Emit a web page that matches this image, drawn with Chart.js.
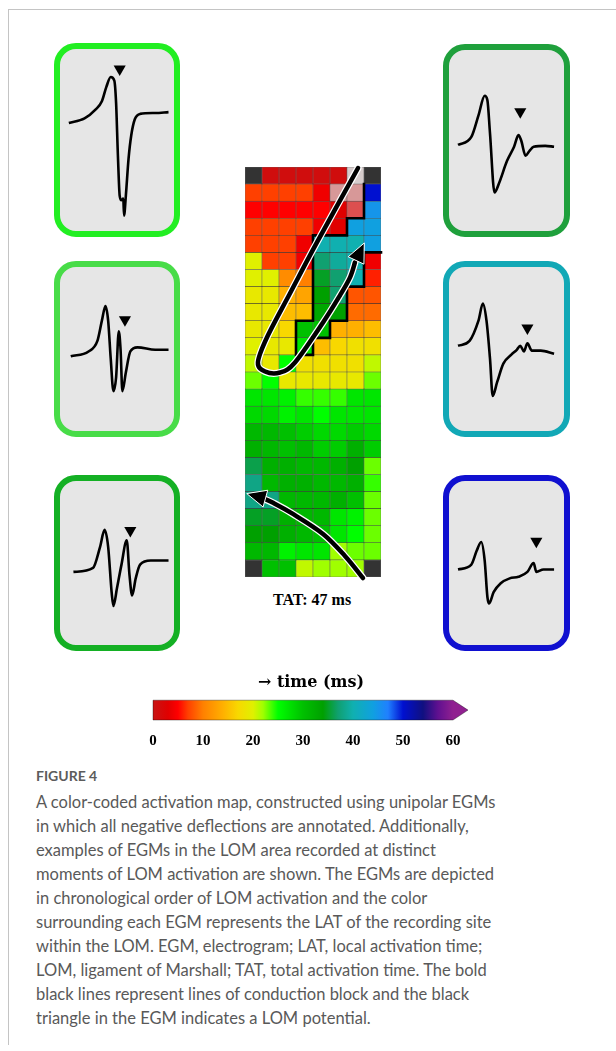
<!DOCTYPE html>
<html>
<head>
<meta charset="utf-8">
<script src="https://cdn.jsdelivr.net/npm/chart.js@4.4.1/dist/chart.umd.min.js"></script>
<style>
  body { margin: 0; background: #fff; width: 616px; height: 1051px; position: relative; overflow: hidden; font-family: Lato, "Open Sans", sans-serif; }
  .frame-top { position: absolute; left: 8px; top: 9px; width: 608px; height: 1px; background: #c4c4c4; }
  .frame-left { position: absolute; left: 8px; top: 9px; width: 1px; height: 1036px; background: #c4c4c4; }
  .panel { position: absolute; box-sizing: border-box; border: 6px solid; border-radius: 22px; background: #e6e6e6; }
  canvas { position: absolute; }
  .tat { position: absolute; left: 232px; width: 160px; top: 591px; text-align: center; font: bold 16px "Liberation Serif", serif; color: #000; }
  .figno { position: absolute; left: 36px; top: 766px; font-size: 14px; font-weight: 700; color: #5c5c5c; line-height: 20px; }
  .caption { position: absolute; left: 36px; top: 790px; font-size: 16.5px; line-height: 24px; color: #595959; white-space: nowrap; }
</style>
</head>
<body>
<div class="frame-top"></div>
<div class="frame-left"></div>

<div id="panels"></div>
<canvas id="map" width="156" height="430" style="left:235px;top:157px"></canvas>
<div class="tat">TAT: 47 ms</div>
<canvas id="scale" width="350" height="100" style="left:140px;top:662px"></canvas>

<div class="figno">FIGURE 4</div>
<div class="caption">
A color-coded activation map, constructed using unipolar EGMs<br>
in which all negative deflections are annotated. Additionally,<br>
examples of EGMs in the LOM area recorded at distinct<br>
moments of LOM activation are shown. The EGMs are depicted<br>
in chronological order of LOM activation and the color<br>
surrounding each EGM represents the LAT of the recording site<br>
within the LOM. EGM, electrogram; LAT, local activation time;<br>
LOM, ligament of Marshall; TAT, total activation time. The bold<br>
black lines represent lines of conduction block and the black<br>
triangle in the EGM indicates a LOM potential.
</div>

<script>
// electrode columns of the LOM map
const columns = [1, 2, 3, 4, 5, 6, 7, 8];

// local activation time (ms) per electrode, rows top -> bottom, null = no signal
const latRows = [
  [null, 1, 1, 1, 1, 1, 1, null],
  [7, 7, 7, 7, 4, 2, 2, 50],
  [5, 5, 5, 5, 5, 3, 3, 45],
  [7, 7, 7, 7, 4, 3, 44, 44],
  [7, 7, 7, 4, 40, 40, 40, 44],
  [20, 7, 7, 4, 37, 39, 40, 4],
  [20, 20, 11, 10, 35, 37, 40, 6],
  [19, 19, 14, 13, 34, 37, 8, 8],
  [19, 19, 15, 15, 33, 34, 9, 9],
  [19, 19, 17, 30, 30, 14, 14, 15],
  [20, 19, 19, 27, 15, 17, 18, 18],
  [21, 19, 25, 18, 18, 18, 18, 21],
  [23, 25, 19, 19, 19, 19, 19, 23],
  [27, 27, 26, 24, 24, 24, 27, 27],
  [28, 28, 26, 27, 25, 27, 27, 27],
  [31, 31, 30, 29, 28, 28, 29, 28],
  [32, 31, 30, 31, 29, 29, 32, 29],
  [36, 32, 32, 31, 31, 32, 34, 23],
  [38, 31, 32, 32, 31, 31, 32, 24],
  [38, 38, 31, 31, 31, 32, 30, 23],
  [35, 35, 32, 31, 31, 27, 26, 23],
  [34, 34, 32, 31, 30, 27, 25, 23],
  [31, 31, 26, 27, 27, 22, 23, 23],
  [null, 30, 30, 21, 22, 22, 22, null]
];

// cells shown washed out in the figure: [row, col, amount]
const fadedCells = [[0, 6, 0.95], [1, 5, 0.7], [1, 6, 0.7], [2, 6, 0.37]];

// conduction block drawn round late cells in the upper part
const blockRows = 12;
const blockMinLat = 26;

// curved arrows, in grid units (column, row)
const loopArrow = [[6.65, 0.06], [4.24, 4.4], [2.65, 7.39], [1.29, 9.98], [0.76, 11.44], [1.18, 11.97],
  [2.06, 12.03], [2.94, 11.44], [4.59, 9.1], [5.59, 7.51], [6.18, 6.46], [6.47, 5.58]];
const loopTip = [7.0, 4.46];
const lowerArrow = [[6.94, 24.06], [5.88, 22.77], [4.59, 21.48], [2.82, 20.31], [1.65, 19.66], [1.0, 19.37]];
const lowerTip = [0.12, 19.13];

// colour scale
const scaleTicks = [0, 10, 20, 30, 40, 50, 60];
const latStops  = [0, 3, 5, 7, 10, 14, 17, 20, 22, 25, 30, 34, 37, 40, 44, 47, 50, 54, 57, 60];
const latColors = ["#c81414", "#e00000", "#ff0000", "#ff4000", "#ff8000", "#ffb000", "#f8d800", "#e0f000",
  "#a0ff00", "#00ff00", "#00c000", "#00a000", "#10a070", "#10b0b0", "#10a0e0", "#2080ff", "#0010d0",
  "#101080", "#601090", "#902090"];

// example EGMs: [time, amplitude] samples and the LOM potential marker
const egms = [
  { border: "#22ee22", wave: [[7, 19], [21, 24], [31, 34], [36.5, 43], [40.5, 59], [44.4, 70], [47.6, 66], [49.2, 41],
      [50.8, -17], [52.4, -62], [54, -67], [55.6, -65], [56.3, -84], [57.9, -62], [60.3, -21], [62.7, 5], [65.9, 23],
      [70.6, 29], [84, 30], [96, 31]], mark: [52.4, 79] },
  { border: "#48dc48", wave: [[8.7, -9], [24.6, -3], [32.5, 10], [36.5, 35], [39.7, 53], [42.1, 35], [44.4, -12],
      [46.8, -52], [49.2, -35], [51.6, 22], [53.2, -1], [54.8, -52], [57.9, -29], [61.9, -3], [68.3, 2], [84.1, -1],
      [96, -1]], mark: [57.1, 36] },
  { border: "#14b024", wave: [[11.1, -11], [28.6, -6], [34.9, 20], [38.9, 41], [42.1, 20], [45.2, -36], [46.8, -53],
      [50, -31], [54, -2], [58.7, 28], [61.1, -14], [63.5, -40], [66.7, -19], [70.6, -2], [80.2, 3], [96, 3]],
      mark: [61.9, 40] },
  { border: "#1fa03c", wave: [[7.1, -5], [18.9, 4], [25.2, 28], [30.7, 50], [33.1, 45], [35.4, 8], [39.4, -58],
      [43.3, -48], [50.4, -23], [56.7, -7], [60.6, 6], [63, 0], [66.9, -17], [70.1, -12], [74, -7], [84.3, -6],
      [92.1, -7]], mark: [62.2, 32] },
  { border: "#12a8b6", wave: [[7.1, 4], [17.3, 10], [25.2, 35], [29.1, 56], [32.3, 35], [35.4, -12], [37.8, -58],
      [41.7, -41], [47.2, -18], [54.3, -7], [59.1, -1], [62.2, 4], [65.4, -3], [68.5, 7], [72.4, -2], [80.3, -2],
      [92.1, -6]], mark: [68.5, 26] },
  { border: "#1010d0", wave: [[7.1, -8], [18.9, -2], [23.6, 15], [27.6, 26], [30.7, 3], [33.1, -42], [34.6, -50],
      [38.6, -36], [44.9, -25], [52.8, -19], [60.6, -17], [68.5, -11], [74, 0], [76.4, -11], [82.7, -8], [92.1, -8]],
      mark: [76.4, 27] }
];
const panelBoxes = [
  [54, 43, 126, 194], [54, 261, 126, 176], [54, 475, 126, 176],
  [443, 44, 127, 193], [443, 261, 127, 176], [443, 475, 127, 176]
];

function hexRgb(h) {
  return [parseInt(h.slice(1, 3), 16), parseInt(h.slice(3, 5), 16), parseInt(h.slice(5, 7), 16)];
}

function latRgb(v) {
  for (let i = 1; i < latStops.length; i++) {
    if (v <= latStops[i]) {
      const t = (v - latStops[i - 1]) / (latStops[i] - latStops[i - 1]);
      const a = hexRgb(latColors[i - 1]), b = hexRgb(latColors[i]);
      return a.map((c, k) => Math.round(c + (b[k] - c) * t));
    }
  }
  return hexRgb(latColors[latColors.length - 1]);
}

function cellColor(r, c) {
  const v = latRows[r][c];
  if (v === null) return "#333333";
  let rgb = latRgb(v);
  const f = fadedCells.find(x => x[0] === r && x[1] === c);
  if (f) rgb = rgb.map(ch => Math.round(ch + (214 - ch) * f[2]));
  return `rgb(${rgb[0]},${rgb[1]},${rgb[2]})`;
}

function smoothPath(ctx, pts) {
  ctx.beginPath();
  ctx.moveTo(pts[0][0], pts[0][1]);
  for (let i = 0; i < pts.length - 1; i++) {
    const p0 = pts[i - 1] || pts[i], p1 = pts[i], p2 = pts[i + 1], p3 = pts[i + 2] || p2;
    ctx.bezierCurveTo(p1[0] + (p2[0] - p0[0]) / 6, p1[1] + (p2[1] - p0[1]) / 6,
                      p2[0] - (p3[0] - p1[0]) / 6, p2[1] - (p3[1] - p1[1]) / 6, p2[0], p2[1]);
  }
}

function drawArrow(ctx, pts, tip) {
  ctx.lineCap = "round";
  ctx.lineJoin = "round";
  smoothPath(ctx, pts);
  ctx.strokeStyle = "#fff"; ctx.lineWidth = 7; ctx.stroke();
  smoothPath(ctx, pts);
  ctx.strokeStyle = "#000"; ctx.lineWidth = 4.5; ctx.stroke();
  const last = pts[pts.length - 1];
  const a = Math.atan2(tip[1] - last[1], tip[0] - last[0]);
  const len = 19, w = 8.5;
  const bx = tip[0] - len * Math.cos(a), by = tip[1] - len * Math.sin(a);
  ctx.beginPath();
  ctx.moveTo(tip[0], tip[1]);
  ctx.lineTo(bx + w * Math.sin(a), by - w * Math.cos(a));
  ctx.lineTo(bx - w * Math.sin(a), by + w * Math.cos(a));
  ctx.closePath();
  ctx.fillStyle = "#000"; ctx.fill();
  ctx.strokeStyle = "#fff"; ctx.lineWidth = 1; ctx.stroke();
}

const mapOverlay = {
  id: "mapOverlay",
  afterDatasetsDraw(chart) {
    const { ctx } = chart;
    const xs = chart.scales.x, ys = chart.scales.y;
    const nRows = latRows.length;
    const px = gx => xs.getPixelForValue(gx - 0.5);
    const py = gy => ys.getPixelForValue(nRows - gy);
    const toPx = p => [px(p[0]), py(p[1])];
    const inBlock = (r, c) => r < blockRows && latRows[r][c] !== null && latRows[r][c] >= blockMinLat;

    ctx.save();
    ctx.strokeStyle = "#000";
    ctx.lineWidth = 2.6;
    ctx.lineCap = "square";
    ctx.beginPath();
    for (let r = 0; r < blockRows; r++) {
      for (let c = 0; c < columns.length; c++) {
        if (latRows[r][c] === null) continue;
        if (c + 1 < columns.length && latRows[r][c + 1] !== null && inBlock(r, c) !== inBlock(r, c + 1)) {
          ctx.moveTo(px(c + 1), py(r)); ctx.lineTo(px(c + 1), py(r + 1));
        }
        if (r + 1 < nRows && latRows[r + 1][c] !== null && inBlock(r, c) !== inBlock(r + 1, c)) {
          ctx.moveTo(px(c), py(r + 1)); ctx.lineTo(px(c + 1), py(r + 1));
        }
      }
    }
    ctx.stroke();

    drawArrow(ctx, loopArrow.map(toPx), toPx(loopTip));
    drawArrow(ctx, lowerArrow.map(toPx), toPx(lowerTip));
    ctx.restore();
  }
};

new Chart(document.getElementById("map"), {
  type: "bar",
  data: {
    labels: columns,
    datasets: latRows.map((row, r) => r).reverse().map(r => ({
      data: columns.map(() => 1),
      backgroundColor: columns.map((_, c) => cellColor(r, c)),
      borderColor: "rgba(0,0,0,0.6)",
      borderWidth: 0.6,
      borderSkipped: false,
      barPercentage: 1,
      categoryPercentage: 1
    }))
  },
  options: {
    responsive: false,
    animation: false,
    events: [],
    layout: { padding: 10 },
    plugins: { legend: { display: false }, tooltip: { enabled: false } },
    scales: {
      x: { stacked: true, display: false },
      y: { stacked: true, display: false, min: 0, max: latRows.length }
    }
  },
  plugins: [mapOverlay]
});

// colour bar
function barGradient(chart) {
  const { ctx, chartArea } = chart;
  if (!chartArea) return null;
  const xs = chart.scales.x;
  const x0 = xs.getPixelForValue(0), x1 = xs.getPixelForValue(60);
  const g = ctx.createLinearGradient(x0, 0, x1, 0);
  latStops.forEach((s, i) => g.addColorStop(s / 60, latColors[i]));
  return g;
}

const scaleArrow = {
  id: "scaleArrow",
  afterDatasetsDraw(chart) {
    const { ctx, chartArea } = chart;
    const xs = chart.scales.x;
    const x0 = xs.getPixelForValue(0), x1 = xs.getPixelForValue(60);
    const t = chartArea.top, b = chartArea.bottom, m = (t + b) / 2;
    ctx.save();
    ctx.beginPath();
    ctx.moveTo(x1, t); ctx.lineTo(x1 + 15, m); ctx.lineTo(x1, b); ctx.closePath();
    ctx.fillStyle = latColors[latColors.length - 1];
    ctx.fill();
    ctx.beginPath();
    ctx.moveTo(x0, t); ctx.lineTo(x1, t); ctx.lineTo(x1 + 15, m); ctx.lineTo(x1, b); ctx.lineTo(x0, b); ctx.closePath();
    ctx.strokeStyle = "rgba(0,0,0,0.35)"; ctx.lineWidth = 1; ctx.stroke();
    ctx.restore();
  }
};

new Chart(document.getElementById("scale"), {
  type: "bar",
  data: {
    labels: [""],
    datasets: [{
      data: [[0, 60]],
      backgroundColor: ctx => barGradient(ctx.chart),
      borderWidth: 0,
      barPercentage: 1,
      categoryPercentage: 1
    }]
  },
  options: {
    indexAxis: "y",
    responsive: false,
    animation: false,
    events: [],
    layout: { padding: { left: 13, right: 37, top: 0, bottom: 0 } },
    plugins: {
      legend: { display: false },
      tooltip: { enabled: false },
      title: {
        display: true, text: "\u2003→ time (ms)", color: "#000",
        font: { family: "'DejaVu Serif', 'Liberation Serif'", size: 16, weight: "bold" },
        padding: { top: 11, bottom: 8 }
      }
    },
    scales: {
      x: {
        type: "linear", min: 0, max: 60,
        afterBuildTicks: s => { s.ticks = scaleTicks.map(v => ({ value: v })); },
        afterFit: s => { s.paddingLeft = 0; s.paddingRight = 0; },
        ticks: { color: "#000", padding: 12, font: { family: "Liberation Serif", size: 15, weight: "bold" } },
        grid: { display: false, drawTicks: false },
        border: { display: false }
      },
      y: { display: false }
    }
  },
  plugins: [scaleArrow]
});

// EGM panels
const panelsDiv = document.getElementById("panels");
egms.forEach((egm, i) => {
  const [l, t, w, h] = panelBoxes[i];
  const box = document.createElement("div");
  box.className = "panel";
  box.style.cssText = `left:${l}px;top:${t}px;width:${w}px;height:${h}px;border-color:${egm.border}`;
  panelsDiv.appendChild(box);
  const cv = document.createElement("canvas");
  cv.width = w; cv.height = h;
  cv.style.left = l + "px"; cv.style.top = t + "px";
  panelsDiv.appendChild(cv);
  new Chart(cv, {
    type: "line",
    data: {
      datasets: [
        { data: egm.wave.map(p => ({ x: p[0], y: p[1] })), borderColor: "#000", borderWidth: 2.6,
          pointRadius: 0, cubicInterpolationMode: "monotone" },
        { data: [{ x: egm.mark[0], y: egm.mark[1] }], showLine: false, pointStyle: "triangle",
          rotation: 180, pointRadius: 7, backgroundColor: "#000", borderColor: "#000", borderWidth: 0 }
      ]
    },
    options: {
      responsive: false,
      animation: false,
      events: [],
      layout: { padding: 0 },
      plugins: { legend: { display: false }, tooltip: { enabled: false } },
      scales: {
        x: { type: "linear", min: 0, max: 100, display: false },
        y: { min: -100, max: 100, display: false }
      }
    }
  });
});
</script>
</body>
</html>
